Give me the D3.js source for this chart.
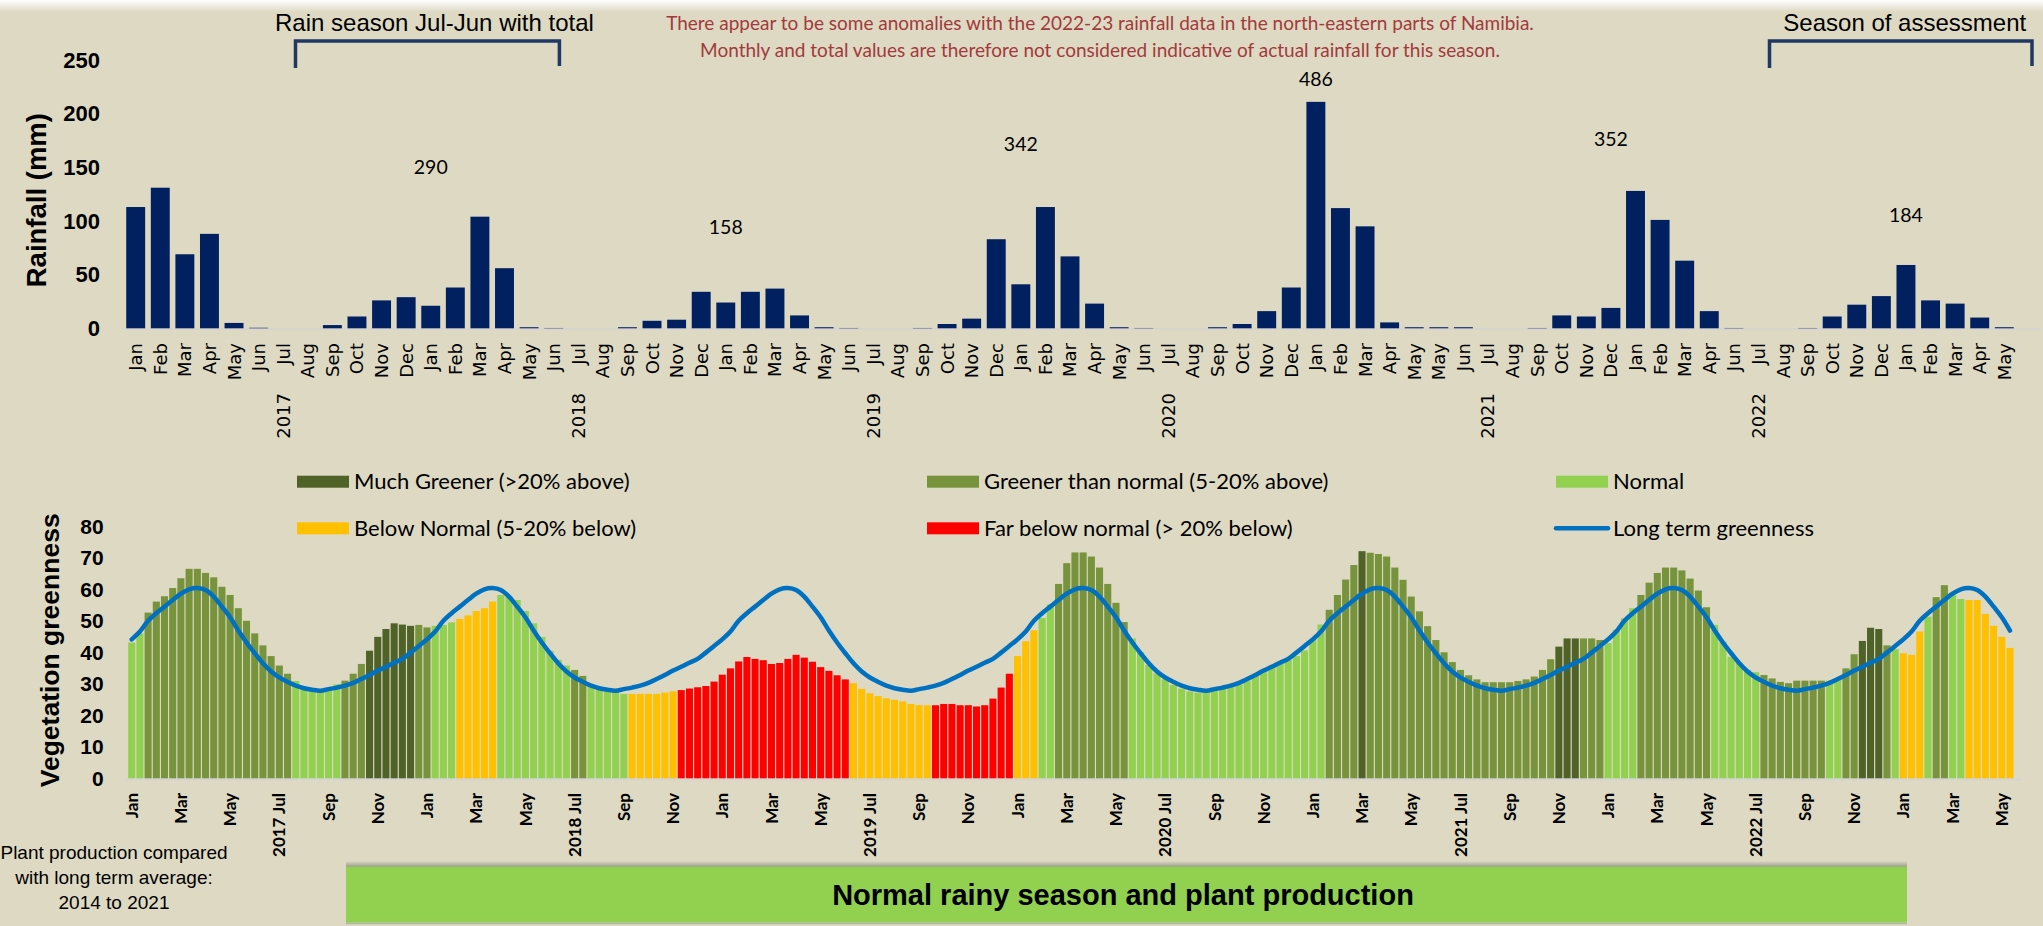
<!DOCTYPE html>
<html>
<head>
<meta charset="utf-8">
<script src="https://cdn.jsdelivr.net/npm/d3@7"></script>
<style>
  html, body { margin: 0; padding: 0; background: #ddd9c3; }
  svg { display: block; }
</style>
</head>
<body>
<svg id="chart" width="2043" height="926"></svg>
<script>
// ---- rainfall (monthly, mm) ----
const rainMonths = [
  "Jan","Feb","Mar","Apr","May","Jun",
  "Jul","Aug","Sep","Oct","Nov","Dec","Jan","Feb","Mar","Apr","May","Jun",
  "Jul","Aug","Sep","Oct","Nov","Dec","Jan","Feb","Mar","Apr","May","Jun",
  "Jul","Aug","Sep","Oct","Nov","Dec","Jan","Feb","Mar","Apr","May","Jun",
  "Jul","Aug","Sep","Oct","Nov","Dec","Jan","Feb","Mar","Apr","May","May","Jun",
  "Jul","Aug","Sep","Oct","Nov","Dec","Jan","Feb","Mar","Apr","Jun",
  "Jul","Aug","Sep","Oct","Nov","Dec","Jan","Feb","Mar","Apr","May"
];
const rainfall = [
  113, 131, 69, 88, 5, 0.5,
  0, 0, 3, 11, 26, 29, 21, 38, 104, 56, 1, 0.3,
  0, 0, 1, 7, 8, 34, 24, 34, 37, 12, 1, 0.3,
  0, 0, 0.3, 4, 9, 83, 41, 113, 67, 23, 1, 0.3,
  0, 0, 1, 4, 16, 38, 211, 112, 95, 5.5, 1, 1, 1,
  0, 0, 0.3, 12, 11, 19, 128, 101, 63, 16, 0.3,
  0, 0, 0.3, 11, 22, 30, 59, 26, 23, 10, 1
];
const rainYears = ["2017", "2018", "2019", "2020", "2021", "2022"];
const seasonTotals = [290, 158, 342, 486, 352, 184];
const rainTicks = [0, 50, 100, 150, 200, 250];

// ---- vegetation greenness (dekadal, Jan 2017 - May 2023) ----
const greenness2017 = [43.1, 46, 52.6, 56.1, 57.8, 60.4, 63.5, 66.5, 66.5, 65.2, 63.8, 60.8, 58.2, 54, 50, 46, 42.2, 38.8, 35.8, 33.2, 30.9, 29.1, 28, 27.8, 28.6, 29.8, 31, 33.2, 36.3, 40.5, 44.9, 47.4, 49.2, 48.8, 48.4, 48.7];
const greenness2018 = [47.9, 48.4, 48.7, 49.5, 50.6, 51.7, 53.1, 54, 56.1, 58.2, 57.7, 56.6, 53.1, 49.2, 44.9, 40.5, 37.6, 35.8, 34.4, 32.5, 29.9, 28.6, 28, 27.5, 26.8, 26.8, 26.8, 26.8, 26.8, 27.2, 27.6, 28, 28.5, 28.9, 29.3, 30.7];
const greenness2019 = [32.9, 34.9, 37.1, 38.5, 37.9, 37.5, 36.3, 36.6, 37.9, 39.2, 38.3, 37, 35.3, 34.1, 32.7, 31.4, 30.2, 28.4, 27, 26.1, 25.4, 24.9, 24.4, 23.6, 23.2, 23.2, 23.2, 23.6, 23.6, 23.2, 23.2, 22.8, 23.2, 25.3, 28.8, 33.2];
const greenness2020 = [38.8, 43.5, 47, 50.9, 55.2, 61.7, 68.3, 71.7, 71.7, 70.4, 66.9, 61.7, 55.7, 49.6, 44.4, 39.9, 36, 33.3, 31.4, 29.7, 28.5, 27.6, 27.2, 27.6, 28, 28.5, 29, 29.8, 31.1, 32.6, 34.1, 35.9, 36.3, 37.6, 38.8, 40.6];
const greenness2021 = [44.1, 48.8, 53.5, 58.2, 63.1, 67.7, 72.1, 71.6, 71.2, 70.4, 66.9, 63, 57.7, 53, 48.3, 43.9, 40, 36.9, 34.4, 32.7, 31.4, 30.5, 30.5, 30.5, 30.5, 30.9, 31.4, 32.3, 34.4, 37.8, 41.8, 44.4, 44.4, 44.4, 44.4, 43.9];
const greenness2022 = [42.9, 47.1, 50.8, 54, 58.2, 62.1, 65.2, 66.9, 66.9, 66, 63.4, 59.6, 54.3, 48.7, 43.4, 38.6, 36.8, 34.4, 33.7, 32.8, 31.7, 30.6, 30.2, 31, 31, 31, 31, 31, 31.7, 34.9, 39.4, 43.6, 47.8, 47.4, 42.2, 41];
const greenness2023 = [39.7, 39.2, 46.6, 51.3, 57.5, 61.3, 58.2, 56.9, 56.6, 56.6, 52.2, 48.4, 44.9, 41.4];

// class per dekad: M much greener, G greener, N normal, Y below normal, R far below
const classes2017 = "NNGGGGGGGGGGGGGGGGGGNNNNNNGGGMMMMMMG";
const classes2018 = "GNNNYYYYYNNNNNNNNNGGNNNNNYYYYYYRRRRR";
const classes2019 = "RRRRRRRRRRRRRRRRYYYYYYYYYYRRRRRRRRRR";
const classes2020 = "YYYNNGGGGGGGGGNNNNNNNNNNNNNNNNNNNNNN";
const classes2021 = "NNGGGGMGGGGGGGGGGGGGGGGGGGGGGGMMMGGG";
const classes2022 = "NNNNGGGGGGGGGNNNNNNGGGGGGGGNNGGMMMGN";
const classes2023 = "YYYNGGNNYYYYYY";

// long term greenness, one value per dekad of the year (Jan d1 .. Dec d3)
const longTerm = [44.1, 46.6, 50, 52.4, 54.5, 56.6, 58.6, 60, 60.4, 59.8, 57.7, 54.5, 51.1, 46.9, 43.1, 39.7, 36.5, 33.9, 32, 30.6, 29.4, 28.6, 28.1, 27.8, 28.3, 28.8, 29.4, 30.3, 31.5, 32.8, 34.2, 35.4, 36.7, 37.9, 39.9, 42];

const greenTickMonths = ["Jan", "Mar", "May", "Jul", "Sep", "Nov"];
const greenTicks = [0, 10, 20, 30, 40, 50, 60, 70, 80];

const classInfo = [
  { code: "M", label: "Much Greener (>20% above)", color: "#4f6228" },
  { code: "G", label: "Greener than normal (5-20% above)", color: "#77933c" },
  { code: "N", label: "Normal", color: "#92d050" },
  { code: "Y", label: "Below Normal (5-20% below)", color: "#ffc000" },
  { code: "R", label: "Far below normal (> 20% below)", color: "#ff0000" }
];
const classColor = Object.fromEntries(classInfo.map(c => [c.code, c.color]));

const greenness = [].concat(greenness2017, greenness2018, greenness2019, greenness2020, greenness2021, greenness2022, greenness2023);
const greenClass = (classes2017 + classes2018 + classes2019 + classes2020 + classes2021 + classes2022 + classes2023).split("");

const svg = d3.select("#chart");
const W = 2043, H = 926;

const defs = svg.append("defs");
const fade = defs.append("linearGradient").attr("id", "topfade")
  .attr("x1", 0).attr("x2", 0).attr("y1", 0).attr("y2", 1);
fade.append("stop").attr("offset", "0%").attr("stop-color", "#ffffff");
fade.append("stop").attr("offset", "100%").attr("stop-color", "#ddd9c3");
const boxShade = defs.append("linearGradient").attr("id", "boxshade")
  .attr("x1", 0).attr("x2", 0).attr("y1", 0).attr("y2", 1);
boxShade.append("stop").attr("offset", "0%").attr("stop-color", "#ddd9c3");
boxShade.append("stop").attr("offset", "100%").attr("stop-color", "#8f8f86");

svg.append("rect").attr("width", W).attr("height", H).attr("fill", "#ddd9c3");
svg.append("rect").attr("width", W).attr("height", 12).attr("fill", "url(#topfade)");

// =================== rainfall chart ===================
const xRain = d3.scaleBand()
  .domain(d3.range(rainfall.length))
  .range([123.4, 2016.6])
  .paddingInner(0.23)
  .paddingOuter(0.115);
const yRain = d3.scaleLinear().domain([0, 250]).range([328.3, 60]);
const cx = i => xRain(i) + xRain.bandwidth() / 2;

const gRain = svg.append("g");

gRain.append("line")
  .attr("x1", 123).attr("x2", 2040)
  .attr("y1", yRain(0) + 0.5).attr("y2", yRain(0) + 0.5)
  .attr("stroke", "#d4d4d4").attr("stroke-width", 1.5);

gRain.selectAll("rect.bar")
  .data(rainfall)
  .join("rect")
  .attr("class", "bar")
  .attr("x", (d, i) => xRain(i))
  .attr("width", xRain.bandwidth())
  .attr("y", d => yRain(d))
  .attr("height", d => yRain(0) - yRain(d))
  .attr("fill", "#002060");

// y ticks
gRain.selectAll("text.ytick")
  .data(rainTicks)
  .join("text")
  .attr("class", "ytick")
  .attr("x", 100)
  .attr("y", d => yRain(d))
  .attr("dy", "0.35em")
  .attr("text-anchor", "end")
  .style("font", "bold 22px 'Liberation Sans', Arial, sans-serif")
  .text(d => d);

gRain.append("text")
  .attr("transform", `translate(46,${(yRain(0) + yRain(250)) / 2 + 6}) rotate(-90)`)
  .attr("text-anchor", "middle")
  .style("font", "bold 27.5px 'Liberation Sans', Arial, sans-serif")
  .text("Rainfall (mm)");

// month labels
gRain.selectAll("text.month")
  .data(rainMonths)
  .join("text")
  .attr("class", "month")
  .attr("transform", (d, i) => `translate(${cx(i)},343) rotate(-90)`)
  .attr("dy", "0.36em")
  .attr("text-anchor", "end")
  .style("font", "18px 'DejaVu Sans', Verdana, sans-serif")
  .text(d => d);

// year labels sit under the July of each season
const julyIdx = rainMonths.map((m, i) => m === "Jul" ? i : -1).filter(i => i >= 0);
gRain.selectAll("text.year")
  .data(rainYears)
  .join("text")
  .attr("class", "year")
  .attr("transform", (d, k) => `translate(${cx(julyIdx[k])},393) rotate(-90)`)
  .attr("dy", "0.36em")
  .attr("text-anchor", "end")
  .style("font", "18px 'DejaVu Sans', Verdana, sans-serif")
  .text(d => d);

// season totals
gRain.selectAll("text.total")
  .data(seasonTotals)
  .join("text")
  .attr("class", "total")
  .attr("x", (d, k) => cx(12 * (k + 1)))
  .attr("y", d => yRain(d * 0.42 + 28))
  .attr("dy", "0.35em")
  .attr("text-anchor", "middle")
  .style("font", "19.5px Lato, 'Open Sans', sans-serif")
  .text(d => d);

// annotations
const brackets = [
  { x1: 295.5, x2: 559.4, label: "Rain season Jul-Jun with total" },
  { x1: 1769.5, x2: 2032, label: "Season of assessment" }
];
brackets.forEach(b => {
  gRain.append("path")
    .attr("d", `M${b.x1},68 V41 H${b.x2} V66`)
    .attr("fill", "none")
    .attr("stroke", "#1f3864")
    .attr("stroke-width", 3.5);
  gRain.append("text")
    .attr("x", (b.x1 + b.x2) / 2 + (b.x2 > 2000 ? 4 : 7))
    .attr("y", 31)
    .attr("text-anchor", "middle")
    .style("font", "24px 'Liberation Sans', Arial, sans-serif")
    .text(b.label);
});

const note = [
  "There appear to be some anomalies with the 2022-23 rainfall data in the north-eastern parts of Namibia.",
  "Monthly and total values are therefore not considered indicative of actual rainfall for this season."
];
gRain.selectAll("text.note")
  .data(note)
  .join("text")
  .attr("class", "note")
  .attr("x", 1100)
  .attr("y", (d, i) => 30 + i * 27)
  .attr("text-anchor", "middle")
  .attr("fill", "#a23a3c")
  .style("font", "19px Lato, 'Open Sans', sans-serif")
  .text(d => d);

// =================== vegetation chart ===================
const xG = d3.scaleBand()
  .domain(d3.range(greenness.length))
  .range([127.6, 2014.1])
  .paddingInner(0.14)
  .paddingOuter(0.07);
const yG = d3.scaleLinear().domain([0, 80]).range([778.3, 526.3]);
const gx = i => xG(i) + xG.bandwidth() / 2;

const gVeg = svg.append("g");

gVeg.append("line")
  .attr("x1", 126).attr("x2", 2022)
  .attr("y1", yG(0) + 1).attr("y2", yG(0) + 1)
  .attr("stroke", "#d4d4d4").attr("stroke-width", 2);

gVeg.selectAll("rect.gbar")
  .data(greenness)
  .join("rect")
  .attr("class", "gbar")
  .attr("x", (d, i) => xG(i))
  .attr("width", xG.bandwidth())
  .attr("y", d => yG(d))
  .attr("height", d => yG(0) - yG(d))
  .attr("fill", (d, i) => classColor[greenClass[i]]);

const ltSeries = greenness.map((d, i) => longTerm[i % 36]);
gVeg.append("path")
  .datum(ltSeries)
  .attr("d", d3.line().x((d, i) => gx(i)).y(d => yG(d)).curve(d3.curveCatmullRom))
  .attr("fill", "none")
  .attr("stroke", "#0070c0")
  .attr("stroke-width", 4.5)
  .attr("stroke-linecap", "round");

gVeg.selectAll("text.gtick")
  .data(greenTicks)
  .join("text")
  .attr("class", "gtick")
  .attr("x", 103.6)
  .attr("y", d => yG(d))
  .attr("dy", "0.35em")
  .attr("text-anchor", "end")
  .style("font", "bold 21px 'Liberation Sans', Arial, sans-serif")
  .text(d => d);

gVeg.append("text")
  .attr("transform", `translate(58.6,${(yG(0) + yG(80)) / 2 - 2}) rotate(-90)`)
  .attr("text-anchor", "middle")
  .style("font", "bold 26.5px 'Liberation Sans', Arial, sans-serif")
  .text("Vegetation greenness");

// x labels every second month
const gLabelIdx = d3.range(0, greenness.length, 6);
gVeg.selectAll("text.gmonth")
  .data(gLabelIdx)
  .join("text")
  .attr("class", "gmonth")
  .attr("transform", i => `translate(${gx(i)},793) rotate(-90)`)
  .attr("dy", "0.36em")
  .attr("text-anchor", "end")
  .style("font", "bold 17px Lato, 'Open Sans', sans-serif")
  .text(i => {
    const m = greenTickMonths[(i / 6) % 6];
    return m === "Jul" ? `${2017 + Math.floor(i / 36)} Jul` : m;
  });

// legend
const legendItems = [
  { label: classInfo[0].label, color: classInfo[0].color, col: 0, row: 0 },
  { label: classInfo[1].label, color: classInfo[1].color, col: 1, row: 0 },
  { label: classInfo[2].label, color: classInfo[2].color, col: 2, row: 0 },
  { label: classInfo[3].label, color: classInfo[3].color, col: 0, row: 1 },
  { label: classInfo[4].label, color: classInfo[4].color, col: 1, row: 1 },
  { label: "Long term greenness", color: "#0070c0", col: 2, row: 1, line: true }
];
const legCols = [297, 927, 1556];
const legRows = [481.7, 528.3];
const leg = gVeg.selectAll("g.leg")
  .data(legendItems)
  .join("g")
  .attr("class", "leg")
  .attr("transform", d => `translate(${legCols[d.col]},${legRows[d.row]})`);
leg.filter(d => !d.line).append("rect")
  .attr("x", 0).attr("y", -6).attr("width", 52).attr("height", 12)
  .attr("fill", d => d.color);
leg.filter(d => d.line).append("line")
  .attr("x1", 0).attr("x2", 52).attr("y1", 0).attr("y2", 0)
  .attr("stroke", d => d.color).attr("stroke-width", 4.5).attr("stroke-linecap", "round");
leg.append("text")
  .attr("x", 57)
  .attr("dy", "0.35em")
  .style("font", "22px Lato, 'Open Sans', sans-serif")
  .text(d => d.label);

// bottom note and status box
const sideNote = ["Plant production compared", "with long term average:", "2014 to 2021"];
svg.selectAll("text.side")
  .data(sideNote)
  .join("text")
  .attr("class", "side")
  .attr("x", 114)
  .attr("y", (d, i) => 859 + i * 25)
  .attr("text-anchor", "middle")
  .style("font", "19px 'Liberation Sans', Arial, sans-serif")
  .text(d => d);

svg.append("rect")
  .attr("x", 346).attr("y", 861).attr("width", 1561).attr("height", 7)
  .attr("fill", "url(#boxshade)");
svg.append("rect")
  .attr("x", 346).attr("y", 866.7).attr("width", 1561).attr("height", 56)
  .attr("fill", "#92d050");
svg.append("line")
  .attr("x1", 346).attr("x2", 1907).attr("y1", 923.5).attr("y2", 923.5)
  .attr("stroke", "#b5b5a8").attr("stroke-width", 1.5);
svg.append("text")
  .attr("x", 1123).attr("y", 905)
  .attr("text-anchor", "middle")
  .style("font", "bold 29px 'Liberation Sans', Arial, sans-serif")
  .text("Normal rainy season and plant production");
</script>
</body>
</html>
